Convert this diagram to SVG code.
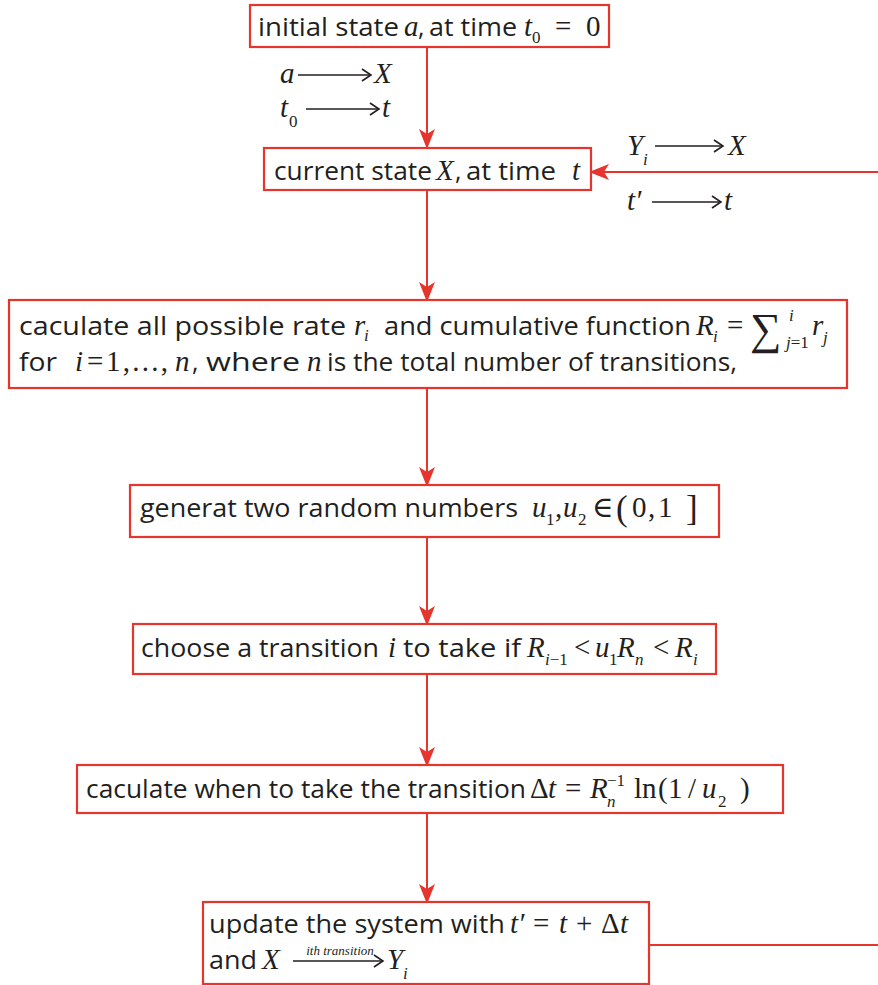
<svg xmlns="http://www.w3.org/2000/svg" width="878" height="985" viewBox="0 0 878 985">
<defs>
<style>
.box{fill:#fff;stroke:#e5352d;stroke-width:2.2}
.con{stroke:#e5352d;stroke-width:2;fill:none}
.s{font-family:"Open Sans","Liberation Sans",sans-serif;font-size:25px;fill:#231f20}
.m{font-family:"Liberation Serif","DejaVu Serif",serif;font-size:29px;fill:#231f20}
.mi{font-family:"Liberation Serif","DejaVu Serif",serif;font-size:29px;font-style:italic;fill:#231f20}
.sub{font-family:"Liberation Serif","DejaVu Serif",serif;font-size:17px;fill:#231f20}
.subi{font-family:"Liberation Serif","DejaVu Serif",serif;font-size:17px;font-style:italic;fill:#231f20}
.ar{stroke:#231f20;stroke-width:1.6;fill:none}
</style>
<marker id="rh" viewBox="0 0 20 20" refX="18" refY="10" markerWidth="20" markerHeight="20" markerUnits="userSpaceOnUse" orient="auto">
<path d="M0,2 L20,10 L0,18 L5,10 Z" fill="#e5352d"/>
</marker>
</defs>

<g id="connectors">
<line class="con" x1="427" y1="47" x2="427" y2="147" marker-end="url(#rh)"/>
<line class="con" x1="427" y1="190" x2="427" y2="300" marker-end="url(#rh)"/>
<line class="con" x1="427" y1="389" x2="427" y2="485" marker-end="url(#rh)"/>
<line class="con" x1="427" y1="537" x2="427" y2="624" marker-end="url(#rh)"/>
<line class="con" x1="427" y1="674" x2="427" y2="765" marker-end="url(#rh)"/>
<line class="con" x1="427" y1="813" x2="427" y2="902" marker-end="url(#rh)"/>
<line class="con" x1="649" y1="945" x2="878" y2="945"/>
<line class="con" x1="878" y1="172" x2="591" y2="172" marker-end="url(#rh)"/>
</g>

<g id="label-a-X">
<text class="mi" x="280" y="83">a</text>
<line class="ar" x1="298" y1="75" x2="370" y2="75"/><path class="ar" d="M362,69 L371,75 L362,81"/>
<text class="mi" x="374" y="83">X</text>
</g>
<g id="label-t0-t">
<text class="mi" x="280" y="117">t</text><text class="sub" x="289" y="127">0</text>
<line class="ar" x1="306" y1="109" x2="378" y2="109"/><path class="ar" d="M370,103 L379,109 L370,115"/>
<text class="mi" x="382" y="117">t</text>
</g>
<g id="label-Yi-X">
<text class="mi" x="627" y="155">Y</text><text class="subi" x="643" y="165">i</text>
<line class="ar" x1="655" y1="146" x2="722" y2="146"/><path class="ar" d="M714,140 L723,146 L714,152"/>
<text class="mi" x="728" y="155">X</text>
</g>
<g id="label-tp-t">
<text class="mi" x="627" y="210">t′</text>
<line class="ar" x1="652" y1="202" x2="720" y2="202"/><path class="ar" d="M712,196 L721,202 L712,208"/>
<text class="mi" x="724" y="210">t</text>
</g>

<g id="n1">
<rect class="box" x="250" y="5" width="359" height="42"/>
<text class="s" x="258" y="36" textLength="141" lengthAdjust="spacingAndGlyphs">initial state</text>
<text class="mi" x="404" y="36">a</text><text class="s" x="418" y="36">,</text>
<text class="s" x="429" y="36" textLength="88" lengthAdjust="spacingAndGlyphs">at time</text>
<text class="mi" x="524" y="36">t</text><text class="sub" x="532" y="43">0</text>
<text class="m" x="555" y="36">=</text><text class="m" x="586" y="36">0</text>
</g>

<g id="n2">
<rect class="box" x="264" y="148" width="327" height="42"/>
<text class="s" x="274" y="180" textLength="158" lengthAdjust="spacingAndGlyphs">current state</text>
<text class="mi" x="436" y="180">X</text><text class="s" x="455" y="180">,</text>
<text class="s" x="466" y="180" textLength="90" lengthAdjust="spacingAndGlyphs">at time</text>
<text class="mi" x="572" y="180">t</text>
</g>

<g id="n3">
<rect class="box" x="9" y="300" width="838" height="88"/>
<text class="s" x="19" y="335" textLength="327" lengthAdjust="spacingAndGlyphs">caculate all possible rate</text>
<text class="mi" x="354" y="335">r<tspan x="364" y="341" style="font-size:17px">i</tspan></text>
<text class="s" x="384" y="335" textLength="307" lengthAdjust="spacingAndGlyphs">and cumulative function</text>
<text class="mi" x="696" y="335">R</text><text class="subi" x="713" y="342">i</text>
<text class="m" x="727" y="335">=</text>
<text class="m" x="750" y="344" style="font-size:44px">∑</text>
<text class="subi" x="789" y="321">i</text>
<text class="sub" x="786" y="348"><tspan font-style="italic">j</tspan>=1</text>
<text class="mi" x="812" y="335">r</text><text class="subi" x="823" y="343">j</text>
<text class="s" x="19" y="371" textLength="38" lengthAdjust="spacingAndGlyphs">for</text>
<text class="mi" x="75" y="371">i</text>
<text class="m" x="87" y="371">=</text>
<text class="m" x="106" y="371" textLength="62" lengthAdjust="spacing">1,...,</text>
<text class="mi" x="175" y="371">n</text>
<text class="s" x="192" y="371">,</text>
<text class="s" x="206" y="371" textLength="94" lengthAdjust="spacingAndGlyphs">where</text>
<text class="mi" x="307" y="371">n</text>
<text class="s" x="327" y="371" textLength="410" lengthAdjust="spacingAndGlyphs">is the total number of transitions,</text>
</g>

<g id="n4">
<rect class="box" x="130" y="485" width="589" height="52"/>
<text class="s" x="140" y="517" textLength="378" lengthAdjust="spacingAndGlyphs">generat two random numbers</text>
<text class="mi" x="532" y="517">u</text><text class="sub" x="546" y="525">1</text>
<text class="m" x="555" y="517">,</text>
<text class="mi" x="563" y="517">u</text><text class="sub" x="578" y="525">2</text>
<text class="m" x="592" y="517">∈</text>
<text class="m" x="616" y="520" style="font-size:35px">(</text>
<text class="m" x="632" y="517">0</text><text class="m" x="648" y="517">,</text><text class="m" x="658" y="517">1</text>
<text class="m" x="686" y="520" style="font-size:35px">]</text>
</g>

<g id="n5">
<rect class="box" x="133" y="624" width="583" height="50"/>
<text class="s" x="141" y="657" textLength="238" lengthAdjust="spacingAndGlyphs">choose a transition</text>
<text class="mi" x="388" y="657">i</text>
<text class="s" x="403" y="657" textLength="118" lengthAdjust="spacingAndGlyphs">to take if</text>
<text class="mi" x="527" y="657">R</text><text class="subi" x="545" y="665">i<tspan font-style="normal">−1</tspan></text>
<text class="m" x="574" y="657">&lt;</text>
<text class="mi" x="595" y="657">u</text><text class="sub" x="609" y="665">1</text>
<text class="mi" x="617" y="657">R</text><text class="subi" x="635" y="665">n</text>
<text class="m" x="653" y="657">&lt;</text>
<text class="mi" x="675" y="657">R</text><text class="subi" x="693" y="665">i</text>
</g>

<g id="n6">
<rect class="box" x="77" y="765" width="706" height="48"/>
<text class="s" x="86" y="798" textLength="440" lengthAdjust="spacingAndGlyphs">caculate when to take the transition</text>
<text class="m" x="530" y="798">Δ</text><text class="mi" x="548" y="798">t</text>
<text class="m" x="565" y="798">=</text>
<text class="mi" x="590" y="798">R</text><text class="subi" x="607" y="807">n</text><text class="sub" x="607" y="786">−1</text>
<text class="m" x="634" y="798">ln</text>
<text class="m" x="658" y="798">(</text>
<text class="m" x="668" y="798">1</text>
<text class="m" x="688" y="798">/</text>
<text class="mi" x="702" y="798">u</text><text class="sub" x="718" y="807">2</text>
<text class="m" x="740" y="798">)</text>
</g>

<g id="n7">
<rect class="box" x="203" y="902" width="446" height="82"/>
<text class="s" x="209" y="933" textLength="296" lengthAdjust="spacingAndGlyphs">update the system with</text>
<text class="mi" x="510" y="933">t′</text>
<text class="m" x="533" y="933">=</text>
<text class="mi" x="559" y="933">t</text>
<text class="m" x="576" y="933">+</text>
<text class="m" x="601" y="933">Δ</text><text class="mi" x="620" y="933">t</text>
<text class="s" x="209" y="969" textLength="48" lengthAdjust="spacingAndGlyphs">and</text>
<text class="mi" x="262" y="969">X</text>
<line class="ar" x1="293" y1="961" x2="382" y2="961"/><path class="ar" d="M374,955 L383,961 L374,967"/>
<text class="subi" x="340" y="955" text-anchor="middle" style="font-size:13px">ith transition</text>
<text class="mi" x="387" y="969">Y</text><text class="subi" x="403" y="979">i</text>
</g>
</svg>
